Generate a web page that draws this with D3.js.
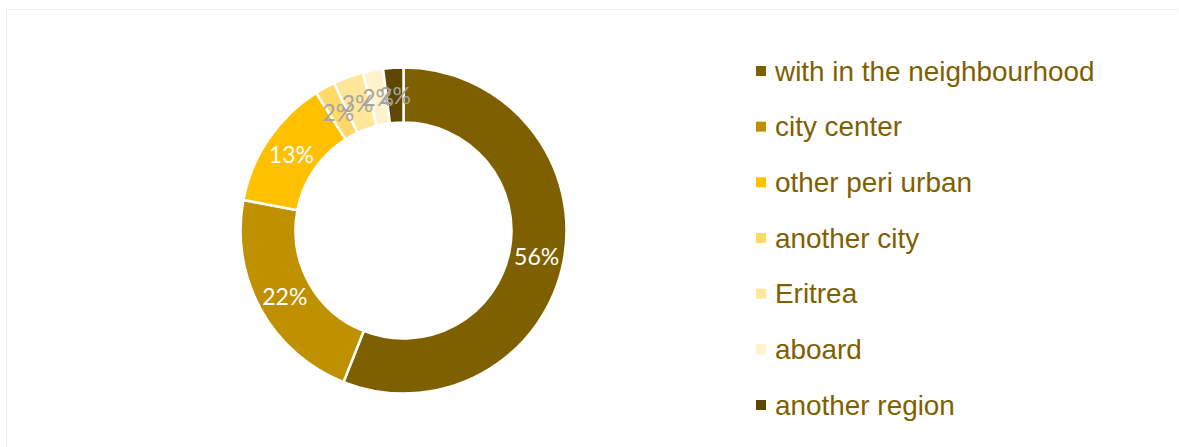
<!DOCTYPE html>
<html>
<head>
<meta charset="utf-8">
<script src="https://cdn.jsdelivr.net/npm/d3@7"></script>
<style>
  html, body { margin: 0; padding: 0; background: #fff; }
  svg { display: block; }
</style>
</head>
<body>
<svg id="chart" width="1179" height="447"></svg>
<script>
// Where respondents come from (share of total, %)
const categories = ["with in the neighbourhood", "city center", "other peri urban", "another city", "Eritrea", "aboard", "another region"];
const shares = [56, 22, 13, 2, 3, 2, 2];
const sliceColors = ["#7F6000", "#BF9000", "#FFC000", "#FFD966", "#FFE699", "#FFF2CC", "#5E4700"];
const labelColors = ["#ffffff", "#ffffff", "#ffffff", "#A5A5A5", "#A5A5A5", "#A5A5A5", "#A5A5A5"];

const svg = d3.select("#chart");
const W = 1179, H = 447;

// light frame of the chart area
svg.append("path")
  .attr("d", "M6.5," + H + " V9.5 H1178")
  .attr("fill", "none")
  .attr("stroke", "#ececec")
  .attr("stroke-width", 1);

const cx = 403.5, cy = 230.5;
const outerR = 163, innerR = 108;

const data = categories.map((c, i) => ({ name: c, value: shares[i], color: sliceColors[i], label: labelColors[i] }));

const pie = d3.pie().value(d => d.value).sort(null);
const arc = d3.arc().innerRadius(innerR).outerRadius(outerR);
const labelArc = d3.arc().innerRadius((innerR + outerR) / 2).outerRadius((innerR + outerR) / 2);

const g = svg.append("g").attr("transform", `translate(${cx},${cy})`);
const arcs = pie(data);

g.selectAll("path.slice")
  .data(arcs)
  .join("path")
  .attr("class", "slice")
  .attr("d", arc)
  .attr("fill", d => d.data.color)
  .attr("stroke", "#ffffff")
  .attr("stroke-width", 2.5)
  .attr("stroke-linejoin", "miter");

g.selectAll("text.pct")
  .data(arcs)
  .join("text")
  .attr("class", "pct")
  .attr("transform", d => `translate(${labelArc.centroid(d)})`)
  .attr("text-anchor", "middle")
  .attr("dominant-baseline", "central")
  .attr("font-family", "Lato, 'Open Sans', sans-serif")
  .attr("font-size", 23)
  .attr("fill", d => d.data.label)
  .text(d => d.data.value + "%");

// legend
const legendY = d3.scalePoint().domain(categories).range([71, 405]);
const legend = svg.append("g");
const items = legend.selectAll("g.item")
  .data(data)
  .join("g")
  .attr("class", "item")
  .attr("transform", d => `translate(756,${legendY(d.name)})`);

items.append("rect")
  .attr("x", 0)
  .attr("y", -5)
  .attr("width", 10)
  .attr("height", 10)
  .attr("fill", d => d.color);

items.append("text")
  .attr("x", 19)
  .attr("y", 0)
  .attr("dominant-baseline", "central")
  .attr("font-family", "'Liberation Sans', Arial, sans-serif")
  .attr("font-size", 27.9)
  .attr("fill", "#7F6000")
  .text(d => d.name);
</script>
</body>
</html>
